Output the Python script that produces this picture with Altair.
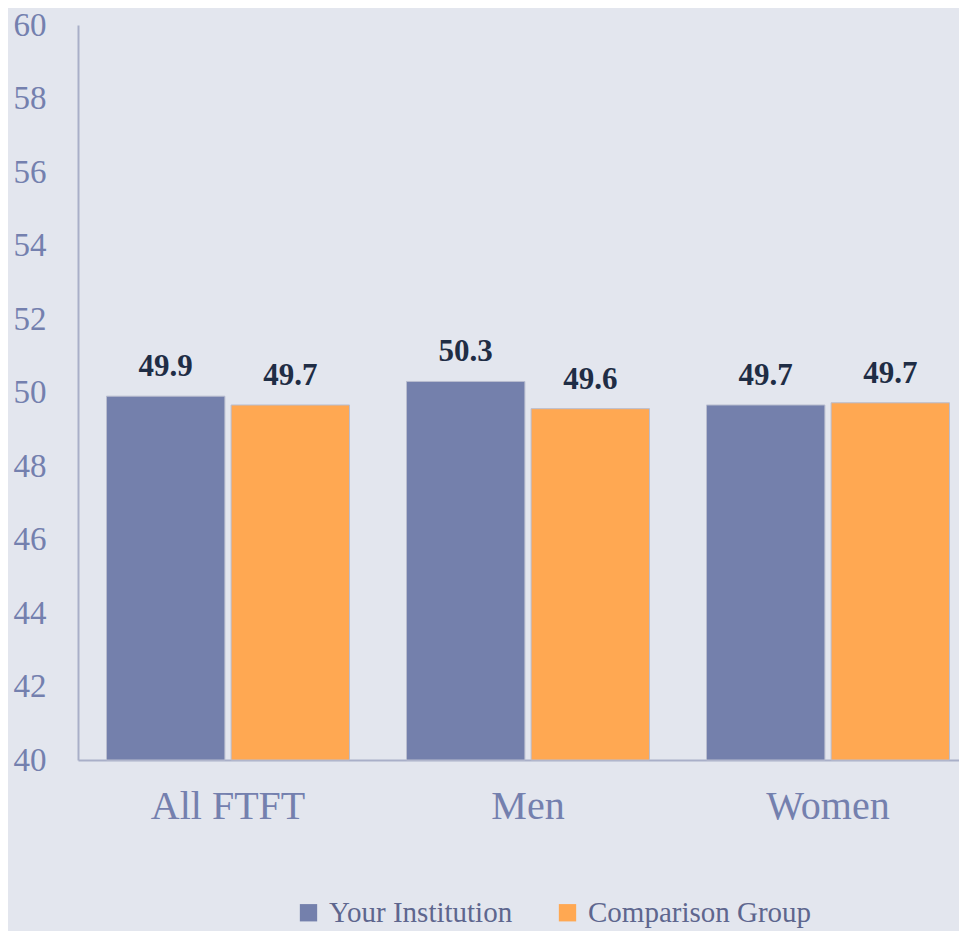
import altair as alt
import pandas as pd

categories = ["All FTFT", "Men", "Women"]
series = ["Your Institution", "Comparison Group"]
institution = [49.9, 50.3, 49.66]
comparison = [49.66, 49.56, 49.72]
y_ticks = [40, 42, 44, 46, 48, 50, 52, 54, 56, 58, 60]
baseline_value = 40

rows = []
for c, a, b in zip(categories, institution, comparison):
    rows.append({"group": c, "series": series[0], "value": a})
    rows.append({"group": c, "series": series[1], "value": b})
df = pd.DataFrame(rows)

FONT = "Liberation Serif"
AXIS_COLOR = "#7480AE"
BG = "#E3E6EE"

x = alt.X("group:N", sort=categories, title=None,
          scale=alt.Scale(paddingInner=0.19, paddingOuter=0.095, range=[0, 900]),
          axis=alt.Axis(labelAngle=0, labelFont=FONT, labelFontSize=40,
                        labelColor=AXIS_COLOR, labelPadding=26, ticks=False,
                        domainColor="#A9AFC8", domainWidth=2))
xo = alt.XOffset("series:N", sort=series,
                 scale=alt.Scale(paddingInner=0.05, paddingOuter=0))
y = alt.Y("value:Q", title=None,
          scale=alt.Scale(domain=[40, 60], nice=False, zero=False),
          axis=alt.Axis(values=y_ticks, labelFont=FONT, labelFontSize=33,
                        labelColor=AXIS_COLOR, labelPadding=32, ticks=False,
                        grid=False, domainColor="#A9AFC8", domainWidth=2))

bars = alt.Chart(df).mark_bar(stroke="#B9BDCF", strokeWidth=1).encode(
    x=x, xOffset=xo, y=y, y2=alt.datum(baseline_value),
    color=alt.Color("series:N", sort=series,
                    scale=alt.Scale(domain=series, range=["#7480AC", "#FFA852"]),
                    legend=alt.Legend(title=None, orient="none", direction="horizontal",
                                      legendX=216, legendY=873,
                                      symbolType="square", symbolSize=300,
                                      symbolStrokeWidth=0, symbolOffset=0,
                                      labelFont=FONT, labelFontSize=29,
                                      labelColor="#5E668E", columnPadding=40,
                                      labelOffset=6, labelLimit=400))
)

labels = alt.Chart(df).mark_text(baseline="alphabetic", dy=-20, font=FONT, fontSize=31,
                                 fontWeight="bold", color="#1F2D45").encode(
    x=alt.X("group:N", sort=categories), xOffset=xo, y="value:Q",
    text=alt.Text("value:Q", format=".1f")
)

chart = (bars + labels).properties(
    width=881, height=735,
    background=BG,
    padding={"left": 70, "top": 17, "right": 0, "bottom": 171},
    autosize=alt.AutoSizeParams(type="none")
).configure_view(stroke=None)

chart.save("out.html", embed_options={"renderer": "svg", "actions": False})
